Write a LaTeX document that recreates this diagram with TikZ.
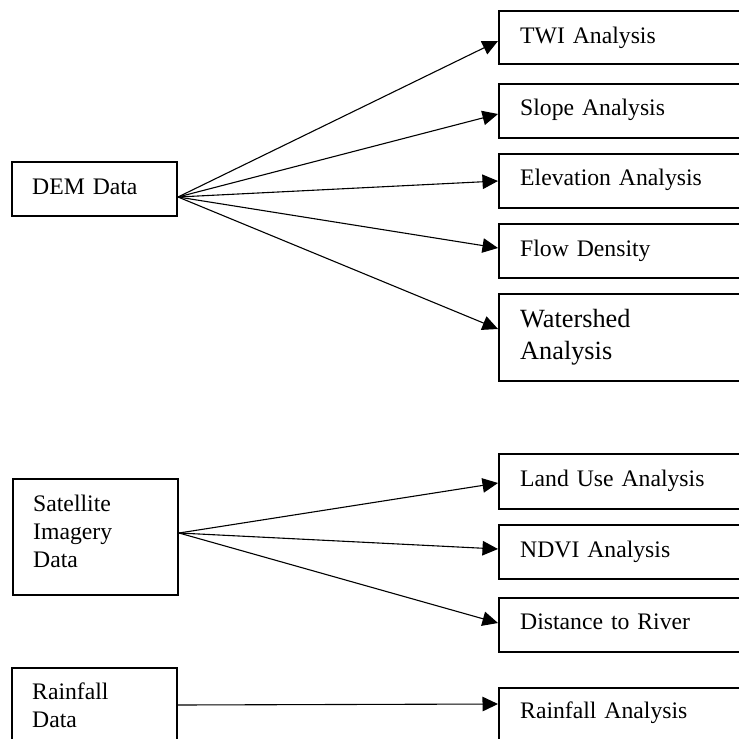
\documentclass[tikz,border=0pt]{standalone}
\usepackage{fontspec}
\setmainfont{Liberation Serif}
\usetikzlibrary{arrows.meta}
\begin{document}
\begin{tikzpicture}[x=1pt,y=-1pt,
  box/.style={draw, line width=2pt, rectangle, anchor=north west, inner sep=0pt},
  srcbox/.style={box, minimum width=165pt},
  resbox/.style={box, minimum width=262pt},
  txt/.style={anchor=base west, inner sep=0pt, align=left, text width=200pt,
    font=\fontsize{23.7}{28}\selectfont},
  bigtxt/.style={txt, font=\fontsize{26.3}{32}\selectfont},
  arr/.style={line width=1.1pt, -{Triangle[length=15.5pt,width=14.5pt]}}
]
\useasboundingbox (0,0) rectangle (739,739);
\clip (0,0) rectangle (739,739);

% source boxes
\node[srcbox, minimum height=54pt]  (dem)  at (11,161) {};
\node[srcbox, minimum height=116pt] (sat)  at (12,478) {};
\node[srcbox, minimum height=76pt]  (rain) at (11,667) {};

\node[txt] (demt)  at (32,194) {DEM Data};
\node[txt] (satt)  at (33,511) {Satellite\\Imagery\\Data};
\node[txt] (raint) at (32,699) {Rainfall\\Data};

% analysis boxes
\node[resbox, minimum height=53pt] (twi)   at (498,10)  {};
\node[resbox, minimum height=54pt] (slope) at (498,83)  {};
\node[resbox, minimum height=54pt] (elev)  at (498,153) {};
\node[resbox, minimum height=54pt] (flow)  at (498,223) {};
\node[resbox, minimum height=87pt] (wshed) at (498,293) {};
\node[resbox, minimum height=55pt] (land)  at (498,453) {};
\node[resbox, minimum height=54pt] (ndvi)  at (498,524) {};
\node[resbox, minimum height=54pt] (dist)  at (498,597) {};
\node[resbox, minimum height=70pt] (rana)  at (498,687) {};

\node[txt] (twit)   at (520,43)  {TWI Analysis};
\node[txt] (slopet) at (520,115) {Slope Analysis};
\node[txt] (elevt)  at (520,185) {Elevation Analysis};
\node[txt] (flowt)  at (520,256) {Flow Density};
\node[bigtxt] (wshedt) at (520,327) {Watershed\\Analysis};
\node[txt] (landt)  at (520,486) {Land Use Analysis};
\node[txt] (ndvit)  at (520,557) {NDVI Analysis};
\node[txt] (distt)  at (520,629) {Distance to River};
\node[txt] (ranat)  at (520,718) {Rainfall Analysis};

% connectors
\draw[arr] ([yshift=-8pt]dem.east) -- ([yshift=-3.5pt]twi.west);
\draw[arr] ([yshift=-8pt]dem.east) -- ([yshift=-3pt]slope.west);
\draw[arr] ([yshift=-8pt]dem.east) -- (elev.west);
\draw[arr] ([yshift=-8pt]dem.east) -- ([yshift=3pt]flow.west);
\draw[arr] ([yshift=-8pt]dem.east) -- ([yshift=8.5pt]wshed.west);

\draw[arr] ([yshift=4pt]sat.east) -- ([yshift=-1.5pt]land.west);
\draw[arr] ([yshift=4pt]sat.east) -- ([yshift=3pt]ndvi.west);
\draw[arr] ([yshift=4pt]sat.east) -- ([yshift=2pt]dist.west);

\draw[arr] ([yshift=1pt]rain.east) -- ([yshift=19pt]rana.west);
\end{tikzpicture}
\end{document}
